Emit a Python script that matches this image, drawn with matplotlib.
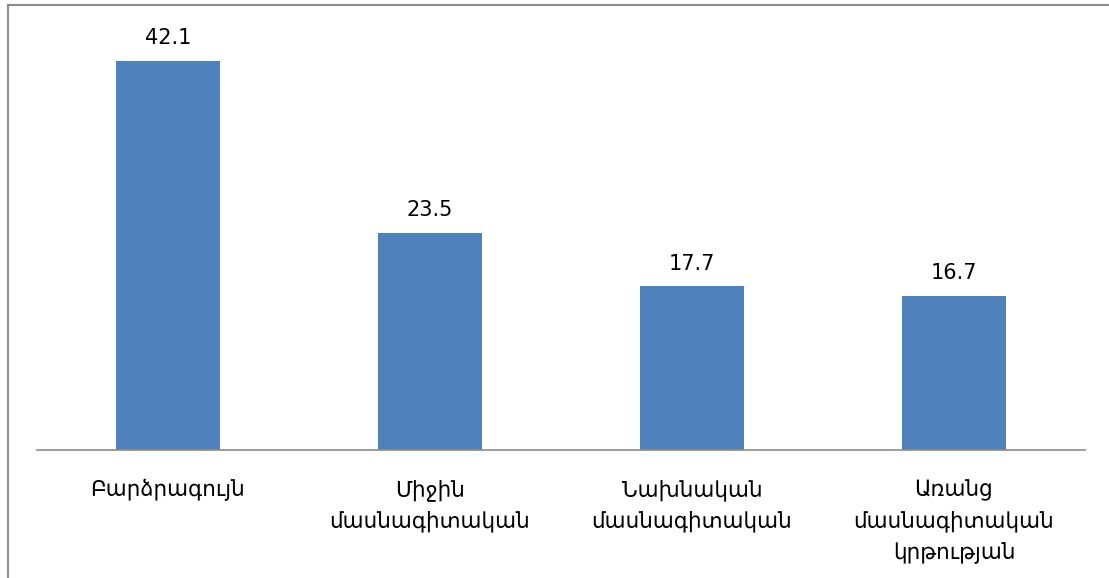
import matplotlib
matplotlib.use('Agg')
import matplotlib.pyplot as plt
from matplotlib.lines import Line2D

# data
categories = ['Բարձրագույն', 'Միջին\nմասնագիտական', 'Նախնական\nմասնագիտական',
              'Առանց\nմասնագիտական\nկրթության']
values = [42.1, 23.5, 17.7, 16.7]

plt.rcParams['font.family'] = ['DejaVu Sans']

W, H = 1109, 578
fig = plt.figure(figsize=(W / 100, H / 100), dpi=100)
# plot area: x 37..1085 px, y 20..450 px
ax = fig.add_axes([37 / W, (H - 450) / H, (1085 - 37) / W, (450 - 20) / H])

x = range(len(categories))
bars = ax.bar(x, values, width=0.4, color='#4F81BD')
ax.set_xlim(-0.5, len(categories) - 0.5)
ax.set_ylim(0, 46.5)

for b, v in zip(bars, values):
    ax.annotate(f'{v:.1f}', (b.get_x() + b.get_width() / 2, v),
                xytext=(0, 16), textcoords='offset points',
                ha='center', va='center', fontsize=15)

ax.set_xticks(list(x))
ax.set_xticklabels(categories, fontsize=15.5, linespacing=1.58, va='top')
ax.tick_params(axis='x', length=0, pad=21)
ax.set_yticks([])

for s in ['top', 'right', 'left']:
    ax.spines[s].set_visible(False)
ax.spines['bottom'].set_color('#8c8c8c')
ax.spines['bottom'].set_linewidth(1.2)

# outer chart frame (only left and top edges visible in the crop)
fig.add_artist(Line2D([7.5 / W, 7.5 / W], [0, 1 - 5 / H], color='#8c8c8c', lw=1.5))
fig.add_artist(Line2D([7.5 / W, 1 - 1 / W], [1 - 5 / H, 1 - 5 / H], color='#8c8c8c', lw=1.5))

fig.savefig('out.png', dpi=100)
